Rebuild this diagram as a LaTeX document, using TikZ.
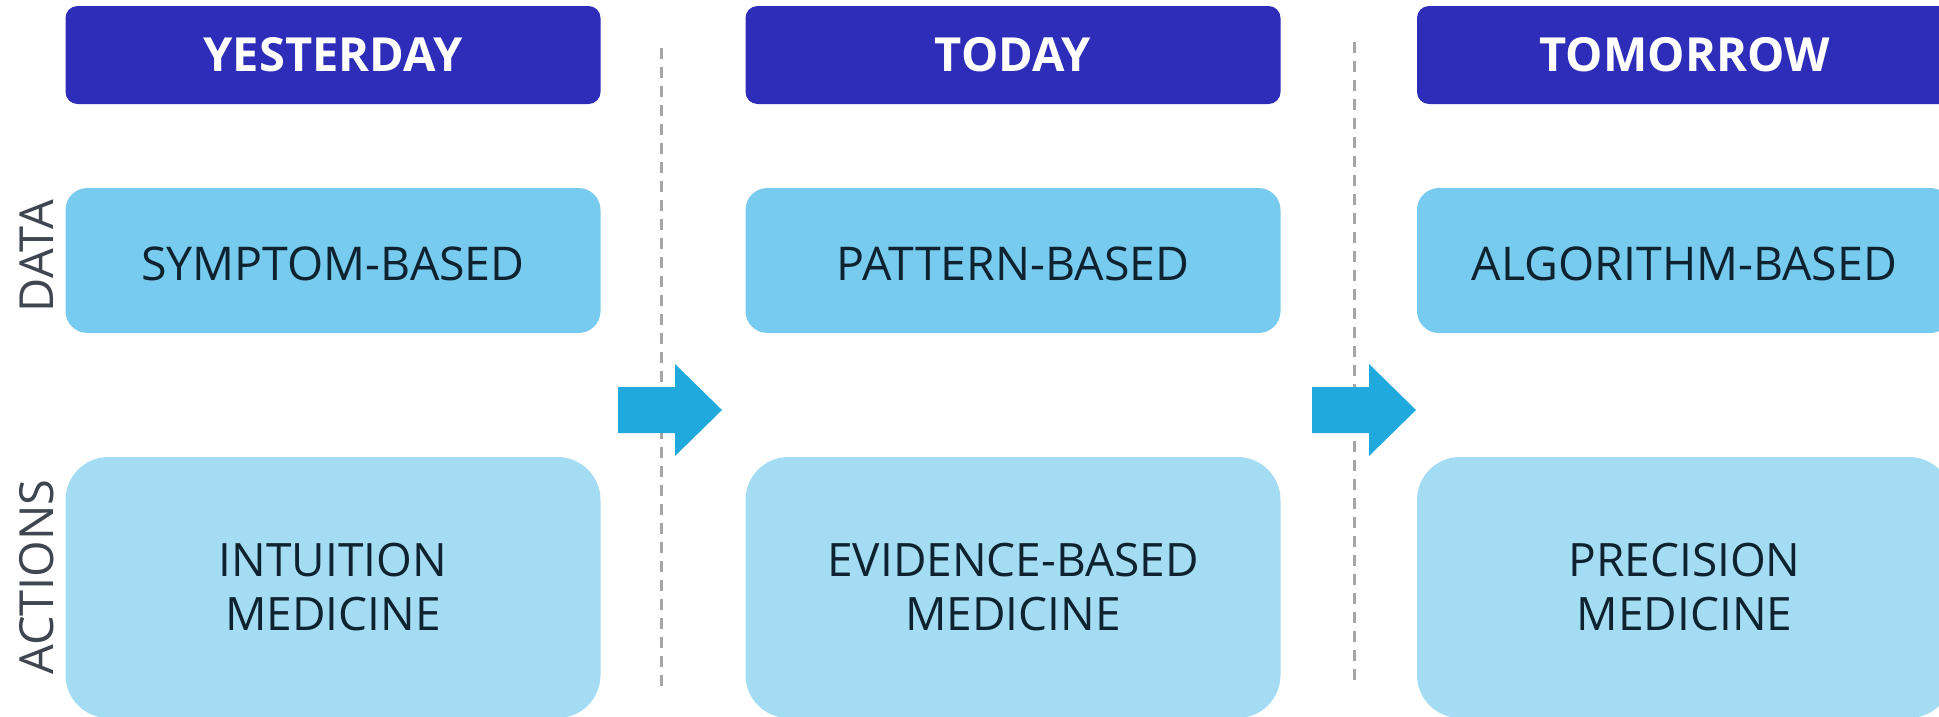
\documentclass[tikz,border=0pt]{standalone}
\usepackage{fontspec}
\setmainfont{Open Sans}
\definecolor{hdrc}{RGB}{46,45,185}
\definecolor{datac}{RGB}{118,203,238}
\definecolor{actc}{RGB}{164,221,243}
\definecolor{arrowc}{RGB}{31,169,221}
\definecolor{txtc}{RGB}{14,34,48}
\definecolor{lblc}{RGB}{64,70,80}
\definecolor{dashc}{RGB}{165,165,165}
\begin{document}
\begin{tikzpicture}[x=1pt,y=-1pt,
  hdrbox/.style={rectangle, rounded corners=12pt, fill=hdrc, text=white,
    minimum width=535pt, minimum height=98pt, inner sep=0pt,
    font=\fontsize{47}{54}\selectfont\bfseries},
  databox/.style={rectangle, rounded corners=22pt, fill=datac, text=txtc,
    minimum width=535pt, minimum height=145pt, inner sep=0pt,
    text height=39pt, text depth=0pt,
    font=\fontsize{46.5}{52}\selectfont},
  actbox/.style={rectangle, rounded corners=43pt, fill=actc, text=txtc,
    minimum width=535pt, minimum height=261pt, inner sep=0pt, align=center,
    font=\fontsize{46}{54}\selectfont},
  rowlabel/.style={rotate=90, text=lblc, inner sep=0pt,
    font=\fontsize{47}{50}\selectfont},
  divider/.style={draw=dashc, line width=3pt, dash pattern=on 11pt off 8pt},
  blockarrow/.style={fill=arrowc}
]
\useasboundingbox (0,0) rectangle (1939,716);
\fill[white] (0,0) rectangle (1939,716);

% headers
\node[hdrbox] (h1) at (333,55) {YESTERDAY};
\node[hdrbox] (h2) at (1013,55) {TODAY};
\node[hdrbox] (h3) at (1684.5,55) {TOMORROW};

% data row
\node[databox] (d1) at (333,260.5) {SYMPTOM-BASED};
\node[databox] (d2) at (1013,260.5) {PATTERN-BASED};
\node[databox] (d3) at (1684.5,260.5) {ALGORITHM-BASED};

% action row
\node[actbox] (a1) at (333,587.5) {INTUITION\\MEDICINE};
\node[actbox] (a2) at (1013,587.5) {EVIDENCE-BASED\\MEDICINE};
\node[actbox] (a3) at (1684.5,587.5) {PRECISION\\MEDICINE};

% row labels
\node[rowlabel] (ldata) at (37,256) {DATA};
\node[rowlabel] (lact) at (37,577) {ACTIONS};

% dividers
\coordinate (v1t) at (661,48);
\coordinate (v1b) at (661,692);
\coordinate (v2t) at (1354,42);
\coordinate (v2b) at (1354,686);
\draw[divider] (v1t) -- (v1b);
\draw[divider] (v2t) -- (v2b);

% block arrows
\foreach \ox in {0,694}{
  \fill[blockarrow, xshift=\ox pt] (618,387) -- (675,387) -- (675,364) -- (722,410)
    -- (675,456) -- (675,433) -- (618,433) -- cycle;
}
\end{tikzpicture}
\end{document}
